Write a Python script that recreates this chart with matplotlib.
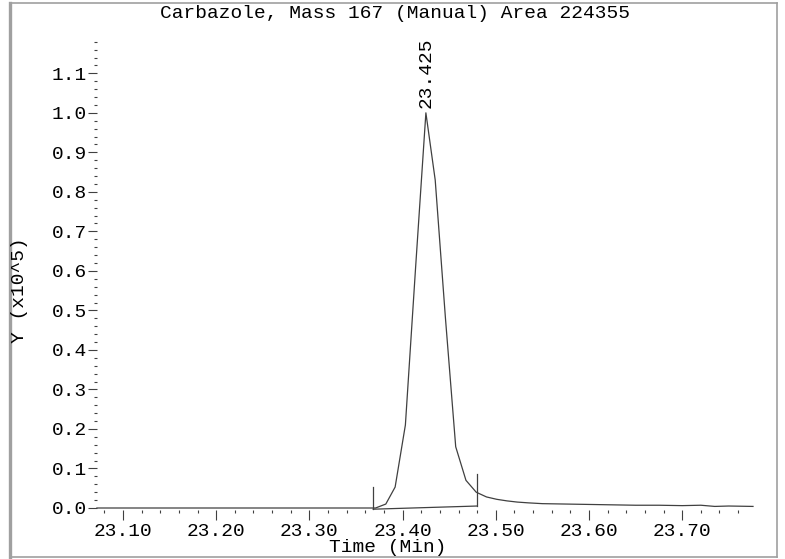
import matplotlib.pyplot as plt
import numpy as np
from matplotlib.ticker import MultipleLocator, FormatStrFormatter
from matplotlib.lines import Line2D

# chromatogram trace (time in min, abundance in x10^5)
time = [23.072, 23.150, 23.250, 23.340, 23.371, 23.382, 23.392, 23.403, 23.414,
        23.425, 23.435, 23.446, 23.457, 23.468, 23.479, 23.490, 23.501, 23.512,
        23.523, 23.535, 23.550, 23.575, 23.600, 23.625, 23.650, 23.675, 23.700,
        23.720, 23.735, 23.750, 23.776]
signal = [0.0, 0.0, 0.0, 0.0, 0.0, 0.010, 0.053, 0.21, 0.61,
          1.0, 0.83, 0.48, 0.155, 0.07, 0.040, 0.028, 0.022, 0.018,
          0.015, 0.013, 0.011, 0.010, 0.009, 0.008, 0.007, 0.007, 0.006,
          0.007, 0.004, 0.005, 0.004]

# manual integration baseline
base_t = [23.3685, 23.480]
base_y = [-0.003, 0.005]
marker_top = [0.053, 0.086]

peak_rt = 23.425
peak_h = 1.0
title = "Carbazole, Mass 167 (Manual) Area 224355"

W, H = 785, 559
fig = plt.figure(figsize=(W / 100, H / 100), dpi=100)
font = ["Liberation Mono", "DejaVu Sans Mono"]
fs = 14
ink = "#404040"

# axes placed in pixel coords
x0, x1 = 97, 753
y0, y1 = 508, 41.3
ax = fig.add_axes([x0 / W, (H - y0) / H, (x1 - x0) / W, (y0 - y1) / H])
ax.set_xlim(23.0721, 23.776)
ax.set_ylim(0, 1.181)
for s in ax.spines.values():
    s.set_visible(False)
ax.spines['bottom'].set_position(('outward', 1.5))

ax.plot(time, signal, color=ink, lw=0.9, clip_on=False)
ax.plot(base_t, base_y, color=ink, lw=0.9, clip_on=False)
for t, yb, yt in zip(base_t, base_y, marker_top):
    ax.plot([t, t], [yb, yt], color=ink, lw=0.9, clip_on=False)

ax.text(peak_rt, peak_h + 0.012, f"{peak_rt:.3f}", rotation=90, ha='center',
        va='bottom', family=font, fontsize=fs)

ax.xaxis.set_major_locator(MultipleLocator(0.1))
ax.xaxis.set_minor_locator(MultipleLocator(0.02))
ax.xaxis.set_major_formatter(FormatStrFormatter('%.2f'))
ax.yaxis.set_major_locator(MultipleLocator(0.1))
ax.yaxis.set_minor_locator(MultipleLocator(0.02))
ax.yaxis.set_major_formatter(FormatStrFormatter('%.1f'))
ax.tick_params(axis='x', which='major', length=7, width=0.8, color=ink, pad=2)
ax.tick_params(axis='x', which='minor', length=2.5, width=0.8, color=ink)
ax.tick_params(axis='y', which='major', length=6.5, width=0.8, color=ink, pad=0.5)
ax.tick_params(axis='y', which='minor', length=2.5, width=0.8, color=ink)
for lab in ax.get_xticklabels() + ax.get_yticklabels():
    lab.set_family(font)
    lab.set_fontsize(fs)

fig.text(395 / W, 1 - 14 / H, title, ha='center', va='center', family=font, fontsize=fs)
fig.text(388 / W, 1 - 548 / H, "Time (Min)", ha='center', va='center', family=font, fontsize=fs)
fig.text(20 / W, 1 - 290 / H, "Y (x10^5)", ha='center', va='center', rotation=90,
         family=font, fontsize=fs)

# outer frame
frame = "#a0a0a0"
fig.add_artist(Line2D([9.5 / W, 9.5 / W], [0, 1 - 3 / H], color=frame, lw=2.4))
fig.add_artist(Line2D([9.5 / W, 777 / W], [1 - 3 / H, 1 - 3 / H], color=frame, lw=1.2))
fig.add_artist(Line2D([777 / W, 777 / W], [1 - 3 / H, 1 - 557 / H], color=frame, lw=1.2))
fig.add_artist(Line2D([9.5 / W, 777 / W], [1 - 557 / H, 1 - 557 / H], color=frame, lw=1.2))

fig.savefig("out.png", dpi=100)
